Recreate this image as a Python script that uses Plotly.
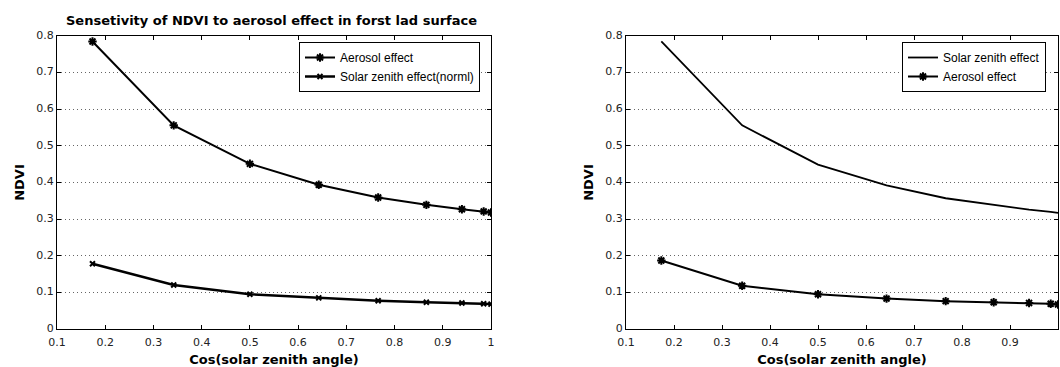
import plotly.graph_objects as go

# Data
cos_sza = [0.1736, 0.342, 0.5, 0.6428, 0.766, 0.866, 0.9397, 0.9848, 1.0]
left_aerosol = [0.785, 0.556, 0.451, 0.394, 0.359, 0.339, 0.327, 0.321, 0.318]
left_solar_norm = [0.178, 0.120, 0.095, 0.085, 0.077, 0.073, 0.071, 0.069, 0.068]
right_solar = [0.785, 0.556, 0.449, 0.392, 0.357, 0.338, 0.326, 0.320, 0.317]
right_aerosol = [0.187, 0.118, 0.095, 0.083, 0.076, 0.073, 0.071, 0.069, 0.067]

x_ticks = [0.1, 0.2, 0.3, 0.4, 0.5, 0.6, 0.7, 0.8, 0.9, 1.0]
x_ticklabels = ["0.1", "0.2", "0.3", "0.4", "0.5", "0.6", "0.7", "0.8", "0.9", "1"]
y_ticks = [0, 0.1, 0.2, 0.3, 0.4, 0.5, 0.6, 0.7, 0.8]
y_ticklabels = ["0", "0.1", "0.2", "0.3", "0.4", "0.5", "0.6", "0.7", "0.8"]

title_text = "Sensetivity of NDVI to aerosol effect in forst lad surface"
x_title = "Cos(solar zenith angle)"
y_title = "NDVI"

W, H = 1060, 367
FONT = "DejaVu Sans, sans-serif"
LEG_FONT = "Liberation Sans, Arial, sans-serif"

fig = go.Figure()

fig.add_trace(go.Scatter(
    x=cos_sza, y=left_aerosol, mode="lines+markers", name="Aerosol effect",
    line=dict(color="black", width=2),
    marker=dict(symbol="asterisk-open", size=7, color="black", line=dict(color="black", width=2)),
    xaxis="x", yaxis="y", legend="legend"))
fig.add_trace(go.Scatter(
    x=cos_sza, y=left_solar_norm, mode="lines+markers", name="Solar zenith effect(norml)",
    line=dict(color="black", width=2.5),
    marker=dict(symbol="x-thin-open", size=5, color="black", line=dict(color="black", width=2)),
    xaxis="x", yaxis="y", legend="legend"))

fig.add_trace(go.Scatter(
    x=cos_sza, y=right_solar, mode="lines", name="Solar zenith effect",
    line=dict(color="black", width=1.8),
    xaxis="x2", yaxis="y2", legend="legend2"))
fig.add_trace(go.Scatter(
    x=cos_sza, y=right_aerosol, mode="lines+markers", name="Aerosol effect",
    line=dict(color="black", width=2),
    marker=dict(symbol="asterisk-open", size=7, color="black", line=dict(color="black", width=2)),
    xaxis="x2", yaxis="y2", legend="legend2"))

left_dom = [57 / W, 491 / W]
right_dom = [626 / W, 1058 / W]
y_dom = [1 - 329 / H, 1 - 36 / H]

def xaxis(dom, anchor):
    return dict(domain=dom, anchor=anchor, range=[0.1, 1.0], tickvals=x_ticks, ticktext=x_ticklabels,
                ticks="inside", ticklen=4, tickcolor="black", mirror="ticks", showline=True,
                linecolor="black", linewidth=1, showgrid=False, zeroline=False,
                ticklabelstandoff=3, automargin=False,
                tickfont=dict(family=FONT, size=11, color="#222"),
                title=dict(text="<b>" + x_title + "</b>", font=dict(family=FONT, size=13, color="black"), standoff=8))

def yaxis(anchor):
    return dict(domain=y_dom, anchor=anchor, range=[0, 0.8], tickvals=y_ticks, ticktext=y_ticklabels,
                ticks="inside", ticklen=4, tickcolor="black", mirror="ticks", showline=True,
                linecolor="black", linewidth=1, showgrid=True, gridcolor="#666", griddash="1px,3px",
                gridwidth=1, zeroline=False, ticklabelshift=-1, automargin=False,
                tickfont=dict(family=FONT, size=11, color="#222"),
                title=dict(text="<b>" + y_title + "</b>", font=dict(family=FONT, size=13, color="black"), standoff=8))

legend_common = dict(bgcolor="white", bordercolor="black", borderwidth=1,
                     font=dict(family=LEG_FONT, size=12, color="black"),
                     xanchor="right", yanchor="top", tracegroupgap=0, itemwidth=30)

fig.update_layout(
    width=W, height=H, margin=dict(l=0, r=0, t=0, b=0, autoexpand=False),
    paper_bgcolor="white", plot_bgcolor="white", showlegend=True,
    xaxis=xaxis(left_dom, "y"), yaxis=yaxis("x"),
    xaxis2=xaxis(right_dom, "y2"), yaxis2=yaxis("x2"),
    legend=dict(x=480 / W, y=1 - 42 / H, **legend_common),
    legend2=dict(x=1046 / W, y=1 - 42 / H, **legend_common),
    annotations=[dict(text="<b>" + title_text + "</b>", x=271 / W, y=1 - 20 / H,
                      xref="paper", yref="paper", showarrow=False, xanchor="center", yanchor="middle",
                      font=dict(family=FONT, size=13, color="black"))],
)

fig.write_html("out.html")
